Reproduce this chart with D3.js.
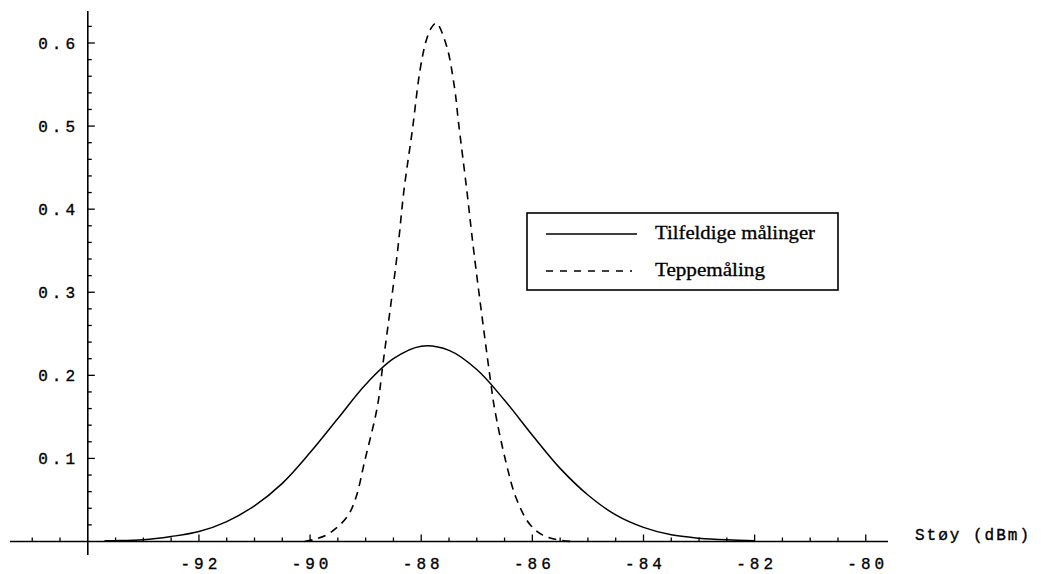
<!DOCTYPE html>
<html>
<head>
<meta charset="utf-8">
<script src="https://cdn.jsdelivr.net/npm/d3@7"></script>
<style>
  html, body { margin: 0; padding: 0; background: #fff; }
  svg { display: block; }
</style>
</head>
<body>
<svg id="chart" width="1041" height="574"></svg>
<script>
// Noise level distributions (probability density vs. noise in dBm)
const randomX = [-93.7, -93.5, -93.0, -92.5, -92.0, -91.5, -91.0, -90.5, -90.0, -89.5, -89.0, -88.5,
                 -88.0, -87.5, -87.0, -86.5, -86.0, -85.5, -85.0, -84.5, -84.0, -83.5, -83.0, -82.5, -82.0];
const randomY = [0.001, 0.001, 0.002, 0.006, 0.012, 0.024, 0.043, 0.070, 0.107, 0.148, 0.189, 0.220,
                 0.235, 0.230, 0.207, 0.170, 0.128, 0.088, 0.056, 0.032, 0.017, 0.008, 0.004, 0.002, 0.001];

const carpetX = [-90.10, -89.90, -89.65, -89.33, -89.17, -89.02, -88.79, -88.69, -88.43, -88.31, -88.16,
                 -88.02, -87.91, -87.82, -87.73, -87.55, -87.40, -87.33, -87.18, -87.05, -86.75, -86.68,
                 -86.47, -86.29, -86.05, -85.82, -85.55, -85.30];
const carpetY = [0.000, 0.003, 0.010, 0.030, 0.054, 0.096, 0.162, 0.213, 0.347, 0.423, 0.495,
                 0.568, 0.603, 0.618, 0.624, 0.598, 0.546, 0.505, 0.423, 0.347, 0.192, 0.160,
                 0.094, 0.052, 0.021, 0.008, 0.002, 0.000];

const seriesNames = ["Tilfeldige målinger", "Teppemåling"];
const xTickValues = [-92, -90, -88, -86, -84, -82, -80];
const xTickLabels = ["-92", "-90", "-88", "-86", "-84", "-82", "-80"];
const yTickValues = [0.1, 0.2, 0.3, 0.4, 0.5, 0.6];
const yTickLabels = ["0.1", "0.2", "0.3", "0.4", "0.5", "0.6"];
const xAxisTitle = "Støy (dBm)";

const svg = d3.select("#chart");

const x = d3.scaleLinear().domain([-95.4, -79.6]).range([10, 888]);
const y = d3.scaleLinear().domain([0, 0.6]).range([541.5, 43]);

const originX = -94;               // vertical axis crosses here
const axisX = x(originX);
const axisY = y(0);
const ink = "#000";
const mono = "'Liberation Mono', 'DejaVu Sans Mono', monospace";

// horizontal axis
svg.append("line")
  .attr("x1", x(-95.4)).attr("x2", x(-79.6))
  .attr("y1", axisY).attr("y2", axisY)
  .attr("stroke", ink).attr("stroke-width", 1.6);

const xMinor = d3.range(-95, -79.9, 0.5).filter(v => v !== originX && !xTickValues.includes(v));
svg.append("g").selectAll("line").data(xMinor).join("line")
  .attr("x1", d => x(d)).attr("x2", d => x(d))
  .attr("y1", axisY).attr("y2", axisY - 4)
  .attr("stroke", ink).attr("stroke-width", 1.3);
svg.append("g").selectAll("line").data(xTickValues).join("line")
  .attr("x1", d => x(d)).attr("x2", d => x(d))
  .attr("y1", axisY).attr("y2", axisY - 7)
  .attr("stroke", ink).attr("stroke-width", 1.3);
svg.append("g").selectAll("text").data(xTickValues).join("text")
  .attr("x", d => x(d) + 2)
  .attr("y", 569)
  .attr("text-anchor", "middle")
  .attr("font-family", mono).attr("font-size", 16)
  .attr("letter-spacing", 4)
  .attr("fill", ink).attr("stroke", ink).attr("stroke-width", 0.35)
  .text((d, i) => xTickLabels[i]);

svg.append("text")
  .attr("x", 915).attr("y", 540)
  .attr("font-family", mono).attr("font-size", 16)
  .attr("letter-spacing", 2)
  .attr("fill", ink).attr("stroke", ink).attr("stroke-width", 0.35)
  .text(xAxisTitle);

// vertical axis
svg.append("line")
  .attr("x1", axisX).attr("x2", axisX)
  .attr("y1", 11).attr("y2", 555)
  .attr("stroke", ink).attr("stroke-width", 1.6);

const yMinor = d3.range(1, 32).map(k => k * 0.02).filter(v => Math.abs(v * 10 - Math.round(v * 10)) > 1e-6);
svg.append("g").selectAll("line").data(yMinor).join("line")
  .attr("x1", axisX).attr("x2", axisX + 4)
  .attr("y1", d => y(d)).attr("y2", d => y(d))
  .attr("stroke", ink).attr("stroke-width", 1.3);
svg.append("g").selectAll("line").data(yTickValues).join("line")
  .attr("x1", axisX).attr("x2", axisX + 7)
  .attr("y1", d => y(d)).attr("y2", d => y(d))
  .attr("stroke", ink).attr("stroke-width", 1.3);
svg.append("g").selectAll("text").data(yTickValues).join("text")
  .attr("x", 79)
  .attr("y", d => y(d) + 6)
  .attr("text-anchor", "end")
  .attr("font-family", mono).attr("font-size", 16)
  .attr("letter-spacing", 4)
  .attr("fill", ink).attr("stroke", ink).attr("stroke-width", 0.35)
  .text((d, i) => yTickLabels[i]);

// curves
const line = d3.line().x(d => x(d[0])).y(d => y(d[1])).curve(d3.curveCatmullRom.alpha(0.5));

svg.append("path")
  .datum(d3.zip(randomX, randomY))
  .attr("d", line)
  .attr("fill", "none").attr("stroke", ink).attr("stroke-width", 1.5);

svg.append("path")
  .datum(d3.zip(carpetX, carpetY))
  .attr("d", line)
  .attr("fill", "none").attr("stroke", ink).attr("stroke-width", 1.6)
  .attr("stroke-dasharray", "8,6");

// legend
const legend = svg.append("g");
legend.append("rect")
  .attr("x", 527).attr("y", 213).attr("width", 311).attr("height", 77)
  .attr("fill", "#fff").attr("stroke", ink).attr("stroke-width", 1.6);
legend.append("line")
  .attr("x1", 546).attr("x2", 637).attr("y1", 234).attr("y2", 234)
  .attr("stroke", ink).attr("stroke-width", 1.5);
legend.append("line")
  .attr("x1", 546).attr("x2", 632).attr("y1", 271).attr("y2", 271)
  .attr("stroke", ink).attr("stroke-width", 1.5)
  .attr("stroke-dasharray", "7,7");
const legendWidths = [160, 110];
legend.selectAll("text").data(seriesNames).join("text")
  .attr("x", 655)
  .attr("y", (d, i) => i === 0 ? 239 : 276)
  .attr("font-family", "'Liberation Serif', 'Times New Roman', serif")
  .attr("font-size", 19)
  .attr("textLength", (d, i) => legendWidths[i])
  .attr("lengthAdjust", "spacingAndGlyphs")
  .attr("fill", ink).attr("stroke", ink).attr("stroke-width", 0.3)
  .text(d => d);
</script>
</body>
</html>
